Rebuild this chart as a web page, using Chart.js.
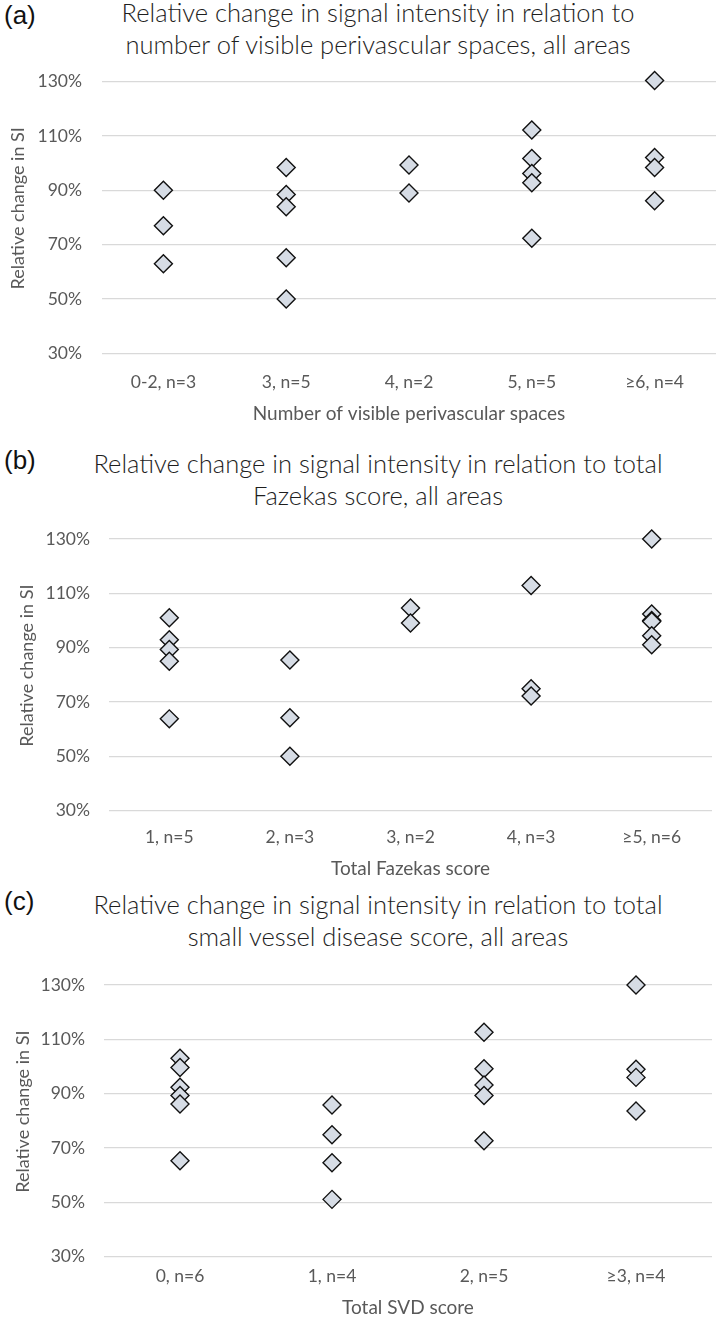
<!DOCTYPE html>
<html>
<head>
<meta charset="utf-8">
<script src="https://cdn.jsdelivr.net/npm/chart.js"></script>
<style>
  body { margin: 0; background: #fff; }
  #page { position: relative; width: 720px; height: 1322px; overflow: hidden; background: #fff; }
  .lab { position: absolute; left: 4px; font-family: "Liberation Sans", Arial, sans-serif; font-size: 26px; color: #111; line-height: 30px; }
  .ttl { position: absolute; left: 378px; transform: translateX(-50%); white-space: nowrap;
         font-family: Lato, "Open Sans", sans-serif; font-weight: 300; font-size: 25.5px; line-height: 32px; color: #1e1e1e; }
  canvas { position: absolute; left: 0; }
</style>
</head>
<body>
<div id="page">
  <div class="lab" style="top:0px">(a)</div>
  <div class="ttl" style="top:-4px">Relative change in signal intensity in relation to</div>
  <div class="ttl" style="top:28px">number of visible perivascular spaces, all areas</div>
  <canvas id="chartA" width="720" height="365" style="top:60px"></canvas>

  <div class="lab" style="top:445px">(b)</div>
  <div class="ttl" style="top:447px">Relative change in signal intensity in relation to total</div>
  <div class="ttl" style="top:479px">Fazekas score, all areas</div>
  <canvas id="chartB" width="720" height="362" style="top:518px"></canvas>

  <div class="lab" style="top:886px">(c)</div>
  <div class="ttl" style="top:888px">Relative change in signal intensity in relation to total</div>
  <div class="ttl" style="top:920px">small vessel disease score, all areas</div>
  <canvas id="chartC" width="720" height="355" style="top:964px"></canvas>
</div>
<script>
// (a) perivascular spaces
const pvsGroups = ["0-2, n=3", "3, n=5", "4, n=2", "5, n=5", "\u22656, n=4"];
const pvsValues = [
  [90, 77, 63],
  [98.4, 88.5, 84, 65.2, 50],
  [99.3, 89],
  [112.2, 101.7, 96.2, 92.8, 72.4],
  [130.4, 102.1, 98.4, 86.2]
];
// (b) Fazekas score
const fazGroups = ["1, n=5", "2, n=3", "3, n=2", "4, n=3", "\u22655, n=6"];
const fazValues = [
  [101, 92.9, 89.3, 85, 63.8],
  [85.5, 64.2, 50],
  [104.6, 99.1],
  [112.9, 74.9, 72.2],
  [130, 102.4, 100, 99.6, 94.4, 91.1]
];
// (c) SVD score
const svdGroups = ["0, n=6", "1, n=4", "2, n=5", "\u22653, n=4"];
const svdValues = [
  [103, 99.6, 92.4, 89.3, 86.2, 65.3],
  [85.8, 74.9, 64.6, 51.1],
  [112.6, 99.2, 93.2, 89.3, 72.7],
  [130, 99, 96, 83.6]
];
const yTicks = [30, 50, 70, 90, 110, 130];

const txtGrey = '#595959';
const font = 'Lato, "Open Sans", sans-serif';

function makeChart(id, groups, values, xTitle, lay) {
  let points = [];
  for (let i = 0; i < groups.length; i++) {
    for (let j = 0; j < values[i].length; j++) {
      points.push({ x: groups[i], y: values[i][j] });
    }
  }
  let context = document.getElementById(id).getContext('2d');
  return new Chart(context, {
    type: 'line',
    data: {
      labels: groups,
      datasets: [{
        data: points,
        showLine: false,
        clip: false,
        pointStyle: 'rectRot',
        pointRadius: 9,
        pointBorderWidth: 1.4,
        pointBackgroundColor: '#d6dce5',
        pointBorderColor: '#111',
        pointHoverRadius: 9
      }]
    },
    options: {
      responsive: false,
      animation: false,
      layout: { autoPadding: false, padding: { top: lay.top, right: lay.right, left: 0, bottom: 0 } },
      plugins: { legend: { display: false }, tooltip: { enabled: false } },
      scales: {
        x: {
          type: 'category',
          offset: true,
          grid: { display: false, drawTicks: false },
          border: { display: false },
          ticks: { color: txtGrey, font: { family: font, size: 17.5 }, padding: lay.xPad, maxRotation: 0 },
          title: { display: true, text: xTitle, color: txtGrey, font: { family: font, size: 19 }, padding: 0 },
          afterFit: function (scale) { scale.height = lay.xH; }
        },
        y: {
          min: 30,
          max: 130,
          afterBuildTicks: function (scale) { scale.ticks = yTicks.map(v => ({ value: v })); },
          // invisible tick marks give the gap between labels and plot
          grid: { color: '#d9d9d9', lineWidth: 1.2, drawTicks: true, tickLength: lay.yGap, tickColor: 'rgba(0,0,0,0)' },
          border: { display: false },
          ticks: { color: txtGrey, font: { family: font, size: 17.5 }, padding: 0,
                   callback: function (v) { return v + '%'; } },
          title: { display: true, text: '    Relative change in SI', color: txtGrey,
                   font: { family: font, size: 18 }, padding: { top: lay.tPad, bottom: 0 } },
          afterFit: function (scale) { scale.width = lay.yW; }
        }
      }
    }
  });
}

window.addEventListener('load', function () {
  makeChart('chartA', pvsGroups, pvsValues, 'Number of visible perivascular spaces',
    { top: 21.7, right: 4, yW: 102, xH: 71.7, xPad: 18.5, yGap: 20, tPad: 7.5 });
  makeChart('chartB', fazGroups, fazValues, 'Total Fazekas score',
    { top: 21, right: 8, yW: 109, xH: 69.3, xPad: 16, yGap: 19, tPad: 16 });
  makeChart('chartC', svdGroups, svdValues, 'Total SVD score',
    { top: 21, right: 8, yW: 104, xH: 62.3, xPad: 9, yGap: 19, tPad: 12 });
});
</script>
</body>
</html>
